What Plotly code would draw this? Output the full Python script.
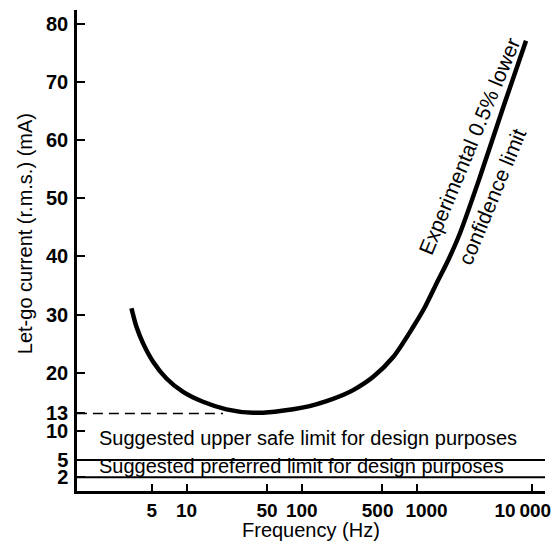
import plotly.graph_objects as go

# Experimental 0.5% lower confidence limit of let-go current
freq_hz = [3.33, 3.68, 4.2, 5.13, 6.7, 9.34, 13.9, 22.2, 37.8, 58.4, 84.2, 117, 164, 230, 279, 417, 621, 927,
           1171, 1479, 1866, 2357, 3516, 5601, 8817]
letgo_ma = [31.1, 27.9, 25.05, 21.9, 19.0, 16.7, 15.0, 13.7, 13.1, 13.3, 13.7, 14.25, 15.1, 16.2, 17.0, 19.3, 22.7, 27.9,
            31.3, 35.4, 39.4, 44.0, 53.7, 65.7, 77.1]

# Reference lines
min_level_ma = 13
min_line_freq = [1.12, 20.7]
limit_values = [5, 2]
limit_labels = ["Suggested upper safe limit for design purposes",
                "Suggested preferred limit for design purposes"]
limit_label_y = [8.75, 3.95]

x_tickvals = [5, 10, 50, 100, 500, 1000, 10000]
x_ticklabels = ["5", "10", "50", "100", "500", "1000", "10\u2009000"]
y_tickvals = [2, 5, 10, 13, 20, 30, 40, 50, 60, 70, 80]
y_ticklabels = [str(v) for v in y_tickvals]

curve_label_1 = "Experimental 0.5% lower"
curve_label_2 = "confidence limit"

FONT = "Liberation Sans, Arial, sans-serif"
EN = "\u2002"
# the hand-drawn original offsets some labels from their ticks
x_ticktext = ["<b>%s</b>" % t for t in x_ticklabels]
x_ticktext[4] = "<b>%s</b>%s" % (x_ticklabels[4], EN)
x_ticktext[5] = "%s%s<b>%s</b>" % (EN, EN, x_ticklabels[5])
x_ticktext[6] = "<b>%s</b>%s%s" % (x_ticklabels[6], EN, EN)
y_ticktext = ["<b>%s</b>" % t for t in y_ticklabels]

fig = go.Figure()

fig.add_trace(go.Scatter(
    x=min_line_freq, y=[min_level_ma, min_level_ma], mode="lines",
    line=dict(color="black", width=1.5, dash="10px,6px"), hoverinfo="skip",
))

for v in limit_values:
    fig.add_hline(y=v, line=dict(color="black", width=2))

fig.add_trace(go.Scatter(
    x=freq_hz, y=letgo_ma, mode="lines",
    line=dict(color="black", width=4.5, shape="spline", smoothing=0.8),
))

for txt, yy in zip(limit_labels, limit_label_y):
    fig.add_annotation(x=0.222, y=yy, xref="x", yref="y", text=txt, showarrow=False,
                       xanchor="left", yanchor="middle",
                       font=dict(family=FONT, size=20, color="black"))

fig.add_annotation(x=3.450, y=58.96, xref="x", yref="y", text=curve_label_1, showarrow=False,
                   textangle=-67.5, font=dict(family=FONT, size=21, color="black"))
fig.add_annotation(x=3.653, y=50.25, xref="x", yref="y", text=curve_label_2, showarrow=False,
                   textangle=-67.5, font=dict(family=FONT, size=21, color="black"))

# Axis titles
fig.add_annotation(x=-0.111, y=0.534, xref="paper", yref="paper",
                   text="Let-go current (r.m.s.) (mA)", showarrow=False, textangle=-90,
                   xanchor="center", yanchor="middle",
                   font=dict(family=FONT, size=20, color="black"))
fig.add_annotation(x=0.5, y=-0.081, xref="paper", yref="paper",
                   text="Frequency (Hz)", showarrow=False,
                   xanchor="center", yanchor="middle",
                   font=dict(family=FONT, size=20, color="black"))

# page body has an 8px margin, so the figure is sized to fit the window
fig.update_layout(
    width=552, height=536,
    margin=dict(l=69, r=15, t=2, b=53),
    paper_bgcolor="white", plot_bgcolor="white",
    showlegend=False,
    font=dict(family=FONT, size=20, color="black"),
)

fig.update_xaxes(
    type="log", range=[0.05, 4.11], automargin=False,
    tickvals=x_tickvals, ticktext=x_ticktext, tickangle=0,
    ticklabeloverflow="allow",
    ticks="inside", ticklen=7, tickwidth=1.5, tickcolor="black",
    showline=True, linecolor="black", linewidth=2.5,
    showgrid=False, zeroline=False,
    tickfont=dict(family=FONT, size=19, color="black"),
)
fig.update_yaxes(
    range=[-0.35, 82.4], automargin=False,
    tickvals=y_tickvals, ticktext=y_ticktext,
    ticks="inside", ticklen=8, tickwidth=1.5, tickcolor="black",
    showline=True, linecolor="black", linewidth=2.5,
    showgrid=False, zeroline=False,
    tickfont=dict(family=FONT, size=20, color="black"),
    ticklabelstandoff=2,
)

fig.write_html("out.html")
